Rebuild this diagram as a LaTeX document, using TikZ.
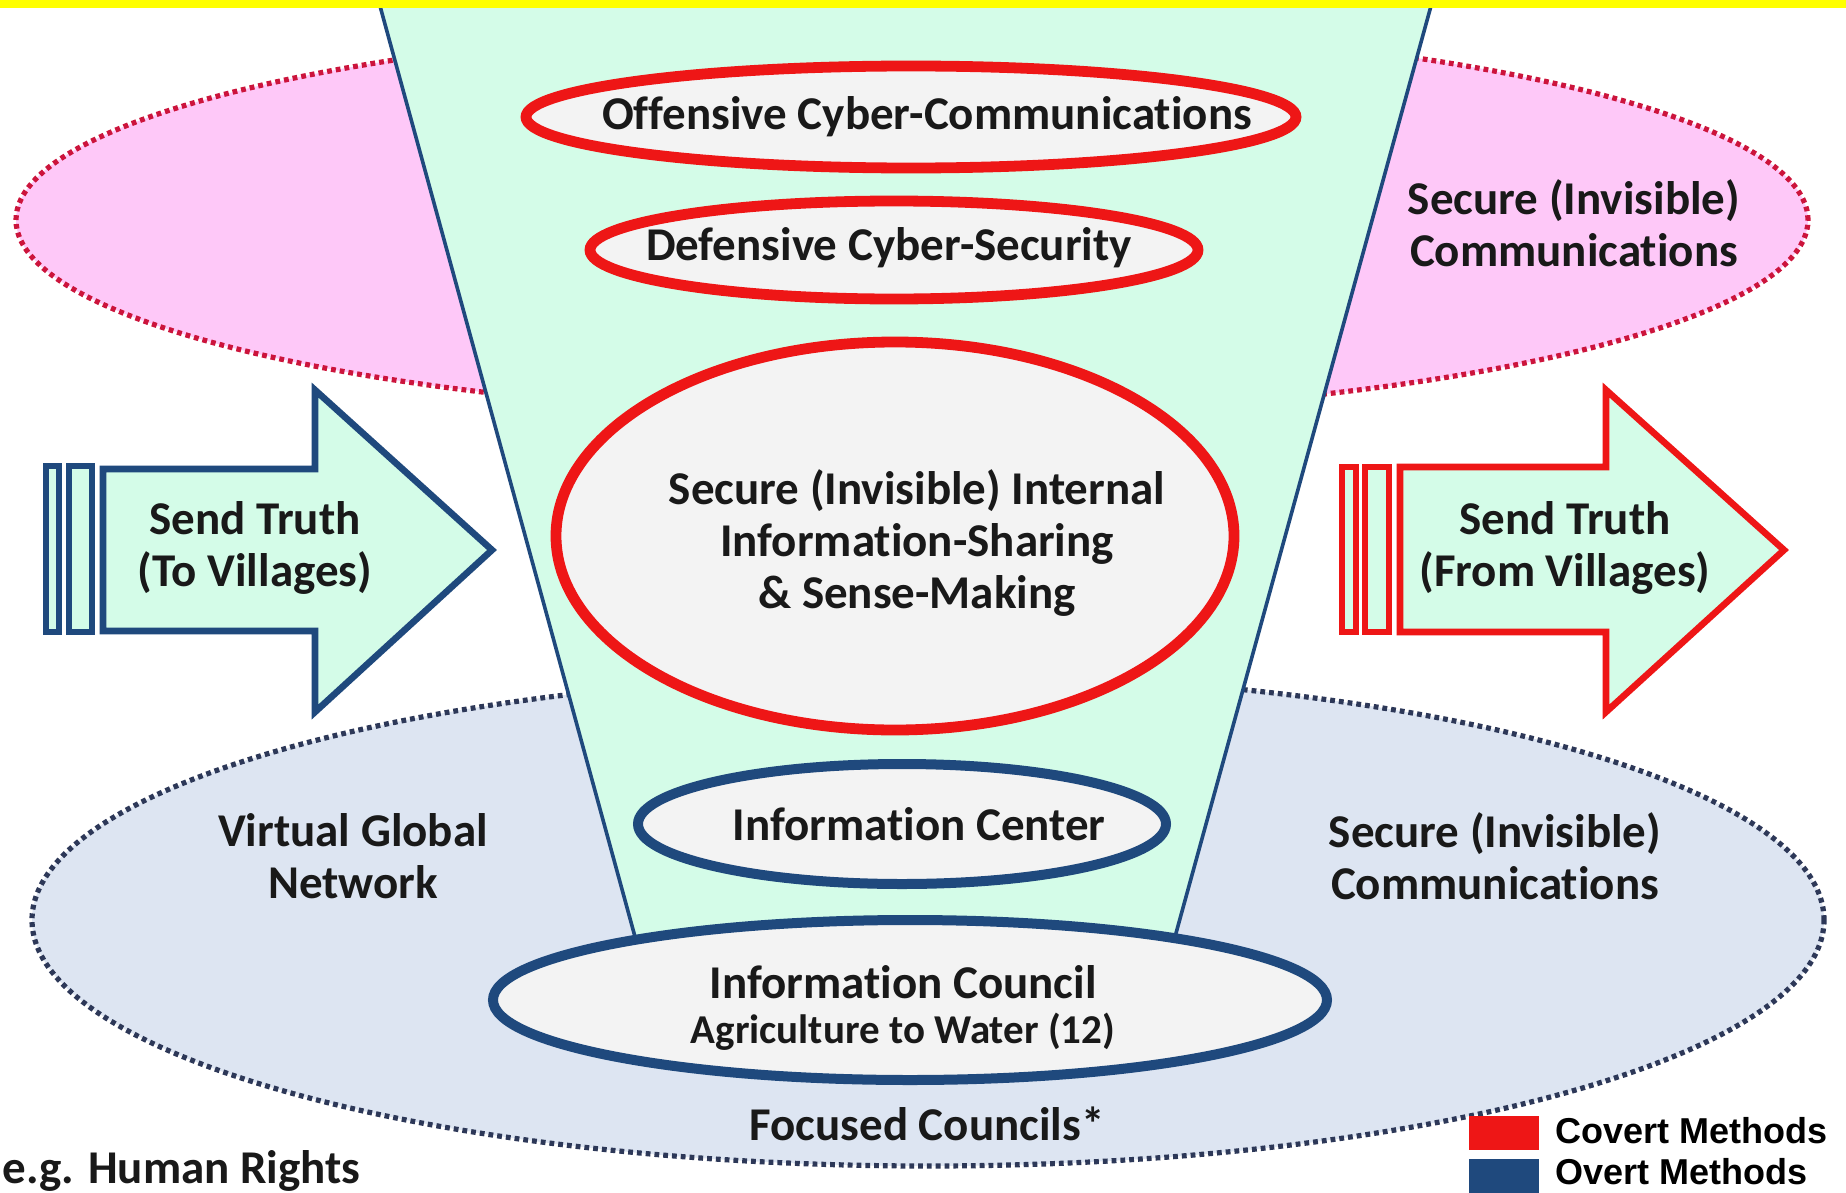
\documentclass[tikz,border=0pt]{standalone}
\usepackage{fontspec}
\setmainfont{Carlito}[Ligatures=CommonOff]
\newfontfamily\legendfont{Liberation Sans}
\usetikzlibrary{shapes.geometric}
\definecolor{pinkbg}{RGB}{254,200,248}
\definecolor{mintbg}{RGB}{212,252,232}
\definecolor{bluebg}{RGB}{221,229,242}
\definecolor{innerbg}{RGB}{243,243,243}
\definecolor{covred}{RGB}{238,22,22}
\definecolor{ovblue}{RGB}{31,73,125}
\definecolor{dotred}{RGB}{204,20,60}
\definecolor{dotblue}{RGB}{45,56,88}
\definecolor{banner}{RGB}{255,255,0}
\tikzset{
  bigoval/.style={ellipse, inner sep=0pt, line width=2.6pt, dash pattern=on 2.4pt off 2pt},
  redoval/.style={ellipse, inner sep=0pt, draw=covred, fill=innerbg, line width=5.4pt},
  blueoval/.style={ellipse, inner sep=0pt, draw=ovblue, fill=innerbg, line width=5pt},
  funneledge/.style={draw=ovblue, line width=1.8pt},
  arrowshape/.style={fill=mintbg, line width=3.3pt, line join=miter},
  txt/.style={font=\bfseries\fontsize{23.5}{26}\selectfont, align=center, inner sep=0pt, text=black!90},
  smalltxt/.style={font=\bfseries\fontsize{20.5}{24}\selectfont, align=center, inner sep=0pt, text=black!90},
  legtxt/.style={font=\legendfont\bfseries\fontsize{18}{20}\selectfont, inner sep=0pt, anchor=west},
}
\begin{document}
\begin{tikzpicture}[x=0.5pt,y=-0.5pt]
\useasboundingbox (0,0) rectangle (1846,1193);
\fill[white] (0,0) rectangle (1846,1193);
% background ovals
\node[bigoval, draw=dotred, fill=pinkbg, minimum width=896pt, minimum height=196pt] (covertzone) at (912,220) {};
\node[bigoval, draw=dotblue, fill=bluebg, minimum width=896pt, minimum height=246pt] (overtzone) at (928,920) {};
% funnel
\coordinate (ftl) at (377,-5);
\coordinate (ftr) at (1434,-5);
\coordinate (fbl) at (640,955);
\coordinate (fbr) at (1170,955);
\fill[mintbg] (ftl) -- (ftr) -- (fbr) -- (fbl) -- cycle;
\draw[funneledge] (ftl) -- (fbl);
\draw[funneledge] (ftr) -- (fbr);
% inner ovals
\node[redoval, minimum width=385pt, minimum height=51pt] (offense) at (911,117) {};
\node[redoval, minimum width=304pt, minimum height=49pt] (defense) at (894,250) {};
\node[redoval, minimum width=339pt, minimum height=194pt] (internal) at (895,536) {};
\node[blueoval, minimum width=264pt, minimum height=60pt] (center) at (902,824) {};
\node[blueoval, minimum width=417pt, minimum height=80pt] (council) at (910,1000) {};
% left arrow (to villages)
\draw[arrowshape, draw=ovblue] (46,466) rectangle (59,632);
\draw[arrowshape, draw=ovblue] (69,466) rectangle (92,632);
\draw[arrowshape, draw=ovblue] (103,469) -- (315,469) -- (315,390) -- (492,550) -- (315,712) -- (315,631) -- (103,631) -- cycle;
% right arrow (from villages)
\draw[arrowshape, draw=covred] (1342,467) rectangle (1356,632);
\draw[arrowshape, draw=covred] (1365,467) rectangle (1389,632);
\draw[arrowshape, draw=covred] (1400,467) -- (1606,467) -- (1606,390) -- (1784,550) -- (1606,712) -- (1606,632) -- (1400,632) -- cycle;
% texts
\node[txt] (toffense) at (927,117) {Offensive Cyber-Communications};
\node[txt] (tdefense) at (889,248) {Defensive Cyber-Security};
\node[txt] (tinternal) at (917,543) {Secure (Invisible) Internal\\Information-Sharing\\\& Sense-Making};
\node[txt] (tcenter) at (919,824) {Information Center};
\node[txt] (tcouncil) at (903,982) {Information Council};
\node[smalltxt] (tagri) at (903,1032) {Agriculture to Water (12)};
\node[txt] (tfocused) at (927,1124) {Focused Councils*};
\node[txt] (thuman) at (2,1171) [anchor=west] {e.g. Human Rights};
\node[txt] (tvirtual) at (353,856) {Virtual Global\\Network};
\node[txt] (tsecbot) at (1495,856) {Secure (Invisible)\\Communications};
\node[txt] (tsectop) at (1574,223) {Secure (Invisible)\\Communications};
\node[txt] (tsendto) at (255,548) {Send Truth\\(To Villages)};
\node[txt] (tsendfrom) at (1565,548) {Send Truth\\(From Villages)};
% legend
\node[fill=covred, minimum width=35pt, minimum height=17pt, inner sep=0pt] (legred) at (1504,1133) {};
\node[fill=ovblue, minimum width=35pt, minimum height=17pt, inner sep=0pt] (legblue) at (1504,1176) {};
\node[legtxt] (tcovert) at (1555,1131) {Covert Methods};
\node[legtxt] (tovert) at (1555,1172) {Overt Methods};
% top banner
\fill[banner] (0,0) rectangle (1846,8);
\end{tikzpicture}
\end{document}
